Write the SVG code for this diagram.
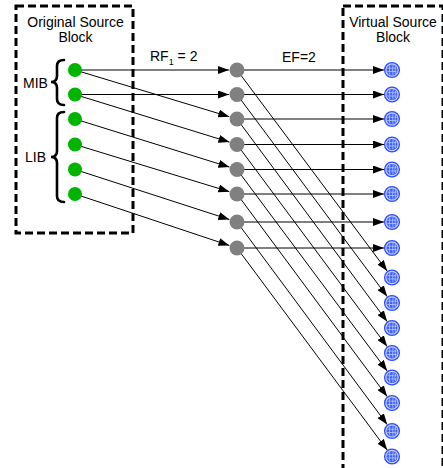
<svg xmlns="http://www.w3.org/2000/svg" width="443" height="468" viewBox="0 0 443 468">
<style>
text{font-family:"Liberation Sans",Arial,sans-serif;font-size:14px;fill:#000}
.box{fill:none;stroke:#000;stroke-width:3;stroke-dasharray:8 4}
.brace{fill:none;stroke:#000;stroke-width:2.6;stroke-linecap:round}
.c line{stroke:#000;stroke-width:1;marker-end:url(#ah)}
.green{fill:#00b400}
.gray{fill:#808080}
</style>
<defs>
<marker id="ah" markerUnits="userSpaceOnUse" markerWidth="11" markerHeight="8" refX="11" refY="4" orient="auto">
<path d="M0,0 L11,4 L0,8 z" fill="#000"/>
</marker>
<symbol id="vs" viewBox="-8 -8 16 16" overflow="visible">
<circle r="7.4" fill="#c9d4ff" stroke="#2a4cff" stroke-width="1.3"/>
<circle r="5.5" fill="#3f5fff"/>
<g stroke="#b8c6ff" stroke-width="0.8" fill="none">
<path d="M-4.6,-1.8 H4.6 M-4.6,1.5 H4.6"/>
<path d="M-2.2,-4.6 Q-3,0 -2.2,4.6 M1,-4.9 Q0.2,0 1,4.9 M3.5,-3.6 Q2.9,0 3.5,3.6"/>
</g>
</symbol>
</defs>

<g id="original-source-block">
<rect class="box" x="16" y="6" width="117" height="227"/>
<text x="75.5" y="27" text-anchor="middle">Original Source</text>
<text x="75.5" y="42" text-anchor="middle">Block</text>
</g>
<g id="virtual-source-block">
<rect class="box" x="343" y="6" width="100" height="475"/>
<text x="393" y="26.5" text-anchor="middle">Virtual Source</text>
<text x="393" y="41.5" text-anchor="middle">Block</text>
</g>
<g id="mib">
<path class="brace" d="M64,60 Q57,60 57,66 L57,76 Q57,82 51,82 Q57,82 57,88 L57,99 Q57,105 64,105"/>
<text x="23" y="88">MIB</text>
</g>
<g id="lib">
<path class="brace" d="M64,112 Q57,112 57,118 L57,151 Q57,157 51,157 Q57,157 57,163 L57,196 Q57,202 64,202"/>
<text x="25" y="162">LIB</text>
</g>
<g id="labels">
<text x="150" y="61">RF<tspan font-size="9" dy="4">1</tspan><tspan dy="-4"> = 2</tspan></text>
<text x="282" y="62">EF=2</text>
</g>

<g id="connectors" class="c">
<line x1="75" y1="70" x2="229" y2="70"/>
<line x1="75" y1="70" x2="229.3" y2="116.7"/>
<line x1="75" y1="94.5" x2="229" y2="94.5"/>
<line x1="75" y1="94.5" x2="229.4" y2="142.1"/>
<line x1="75" y1="119" x2="229.4" y2="167.1"/>
<line x1="75" y1="144.5" x2="229.4" y2="191.7"/>
<line x1="75" y1="169.5" x2="229.4" y2="219.5"/>
<line x1="75" y1="194" x2="229.4" y2="245.5"/>

<line x1="237" y1="70" x2="384" y2="70"/>
<line x1="237" y1="94.5" x2="384" y2="94.5"/>
<line x1="237" y1="119" x2="384" y2="119"/>
<line x1="237" y1="144.5" x2="384" y2="144.5"/>
<line x1="237" y1="169.5" x2="384" y2="169.5"/>
<line x1="237" y1="194" x2="384" y2="194"/>
<line x1="237" y1="222" x2="384" y2="222"/>
<line x1="237" y1="248" x2="384" y2="248"/>

<line x1="237" y1="70" x2="387.2" y2="271.1"/>
<line x1="237" y1="94.5" x2="387.2" y2="296.6"/>
<line x1="237" y1="119" x2="387.2" y2="321.6"/>
<line x1="237" y1="144.5" x2="387.2" y2="346.6"/>
<line x1="237" y1="169.5" x2="387.2" y2="371.1"/>
<line x1="237" y1="194" x2="387.2" y2="396.6"/>
<line x1="237" y1="222" x2="387.2" y2="424.6"/>
<line x1="237" y1="248" x2="387.2" y2="450.1"/>
</g>

<g id="green-nodes" class="green">
<circle id="g1" cx="75" cy="70" r="7"/>
<circle id="g2" cx="75" cy="94.5" r="7"/>
<circle id="g3" cx="75" cy="119" r="7"/>
<circle id="g4" cx="75" cy="144.5" r="7"/>
<circle id="g5" cx="75" cy="169.5" r="7"/>
<circle id="g6" cx="75" cy="194" r="7"/>
</g>
<g id="gray-nodes" class="gray">
<circle id="m1" cx="237" cy="70" r="7.5"/>
<circle id="m2" cx="237" cy="94.5" r="7.5"/>
<circle id="m3" cx="237" cy="119" r="7.5"/>
<circle id="m4" cx="237" cy="144.5" r="7.5"/>
<circle id="m5" cx="237" cy="169.5" r="7.5"/>
<circle id="m6" cx="237" cy="194" r="7.5"/>
<circle id="m7" cx="237" cy="222" r="7.5"/>
<circle id="m8" cx="237" cy="248" r="7.5"/>
</g>
<g id="virtual-nodes">
<g id="v1"><use href="#vs" x="384" y="62" width="16" height="16"/></g>
<g id="v2"><use href="#vs" x="384" y="86.5" width="16" height="16"/></g>
<g id="v3"><use href="#vs" x="384" y="111" width="16" height="16"/></g>
<g id="v4"><use href="#vs" x="384" y="136.5" width="16" height="16"/></g>
<g id="v5"><use href="#vs" x="384" y="161.5" width="16" height="16"/></g>
<g id="v6"><use href="#vs" x="384" y="186" width="16" height="16"/></g>
<g id="v7"><use href="#vs" x="384" y="214" width="16" height="16"/></g>
<g id="v8"><use href="#vs" x="384" y="240" width="16" height="16"/></g>
<g id="v9"><use href="#vs" x="384" y="269.5" width="16" height="16"/></g>
<g id="v10"><use href="#vs" x="384" y="295" width="16" height="16"/></g>
<g id="v11"><use href="#vs" x="384" y="320" width="16" height="16"/></g>
<g id="v12"><use href="#vs" x="384" y="345" width="16" height="16"/></g>
<g id="v13"><use href="#vs" x="384" y="369.5" width="16" height="16"/></g>
<g id="v14"><use href="#vs" x="384" y="395" width="16" height="16"/></g>
<g id="v15"><use href="#vs" x="384" y="423" width="16" height="16"/></g>
<g id="v16"><use href="#vs" x="384" y="448.5" width="16" height="16"/></g>
</g>
</svg>
